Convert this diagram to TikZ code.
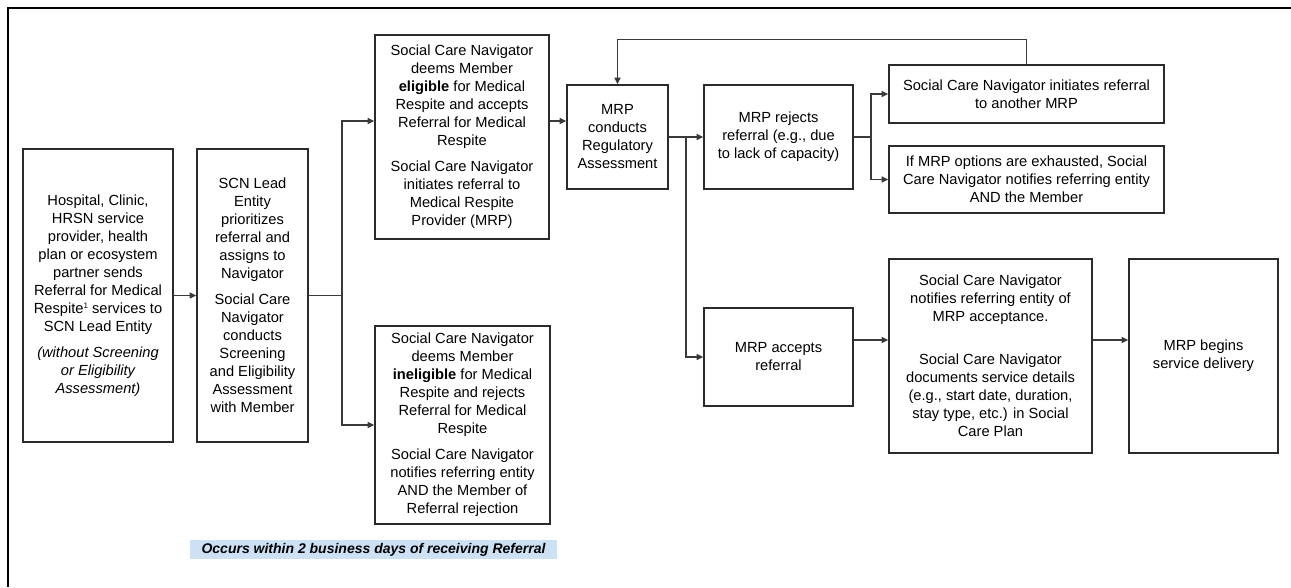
\documentclass[tikz,border=0pt]{standalone}
\usepackage{fontspec}
\setmainfont{Liberation Sans}
\usetikzlibrary{arrows.meta}
\definecolor{edge}{HTML}{2B2B2B}
\definecolor{wirec}{HTML}{3A3A3A}
\definecolor{note}{HTML}{CCE1F4}
\newcommand\refmark{\raisebox{0.6ex}{\fontsize{6}{6}\selectfont 1}}
\begin{document}
\begin{tikzpicture}[x=0.75pt,y=-0.75pt,
  box/.style={draw=edge,line width=1.1pt,inner sep=0pt,align=center,
    font=\fontsize{11}{13.5}\selectfont},
  wire/.style={draw=wirec,line width=1pt},
  arr/.style={wire,-{Triangle[length=5pt,width=4.5pt]}}]
\useasboundingbox (0,0) rectangle (1291,587);
% page frame (top and left rules)
\draw[line width=2pt,black] (8,587) -- (8,8) -- (1291,8);

% first column: referral source and SCN lead entity
\node[box,minimum width=112.5pt,minimum height=219.75pt] (src) at (98,295.5)
  {Hospital, Clinic,\\HRSN service\\provider, health\\plan or ecosystem\\partner sends\\Referral for Medical\\Respite\refmark{} services to\\SCN Lead Entity\\[6pt]
   {\itshape (without Screening}\\{\itshape or Eligibility}\\{\itshape Assessment)}};
\node[box,minimum width=83.25pt,minimum height=219.75pt] (scn) at (252.5,295.5)
  {SCN Lead\\Entity\\prioritizes\\referral and\\assigns to\\Navigator\\[6pt]
   Social Care\\Navigator\\conducts\\Screening\\and Eligibility\\Assessment\\with Member};

% eligibility outcomes
\node[box,minimum width=130.5pt,minimum height=153pt] (elig) at (462,137)
  {Social Care Navigator\\deems Member\\\textbf{eligible} for Medical\\Respite and accepts\\Referral for Medical\\Respite\\[6pt]
   Social Care Navigator\\initiates referral to\\Medical Respite\\Provider (MRP)};
\node[box,minimum width=131.25pt,minimum height=148.5pt] (inel) at (462.5,425)
  {Social Care Navigator\\deems Member\\\textbf{ineligible} for Medical\\Respite and rejects\\Referral for Medical\\Respite\\[6pt]
   Social Care Navigator\\notifies referring entity\\AND the Member of\\Referral rejection};

% MRP assessment and its outcomes
\node[box,minimum width=75.75pt,minimum height=78pt] (mrp) at (617.5,137)
  {MRP\\conducts\\Regulatory\\Assessment};
\node[box,minimum width=111.75pt,minimum height=78pt] (rej) at (778.5,137)
  {MRP rejects\\referral (e.g., due\\to lack of capacity)};
\node[box,minimum width=111.75pt,minimum height=73.5pt] (acc) at (778.5,357)
  {MRP accepts\\referral};
\node[box,minimum width=206.25pt,minimum height=43.5pt] (again) at (1026.5,94)
  {Social Care Navigator initiates referral\\to another MRP};
\node[box,minimum width=206.25pt,minimum height=50.25pt] (exh) at (1026.5,179.5)
  {If MRP options are exhausted, Social\\Care Navigator notifies referring entity\\AND the Member};
\node[box,minimum width=152.25pt,minimum height=145.5pt] (notify) at (990.5,356)
  {Social Care Navigator\\notifies referring entity of\\MRP acceptance.\\[18.75pt]
   Social Care Navigator\\documents service details\\(e.g., start date, duration,\\stay type, etc.) in Social\\Care Plan};
\node[box,minimum width=111.75pt,minimum height=145.5pt] (begin) at (1203.5,356)
  {MRP begins\\service delivery};

% timing note
\node[fill=note,minimum width=275.25pt,minimum height=14.25pt,inner sep=0pt,
  font=\bfseries\itshape\fontsize{10.5}{12}\selectfont] (cap) at (373.5,549.5)
  {Occurs within 2 business days of receiving Referral};

% connectors
\coordinate (j1) at (342,295.5);
\coordinate (j2) at (686,137);
\coordinate (j3) at (871,137);
\draw[arr] (src) -- (scn);
\draw[wire] (scn.east) -- (j1);
\draw[arr] (j1) |- (elig.west |- 0,121);
\draw[arr] (j1) |- (inel.west);
\draw[arr] (elig.east |- 0,121) -- (mrp.west |- 0,121);
\draw[arr] (mrp) -- (rej);
\draw[arr] (j2) |- (acc.west);
\draw[wire] (rej.east) -- (j3);
\draw[arr] (j3) |- (again.west);
\draw[arr] (j3) |- (exh.west);
\draw[arr] (again.north) -- ++(0,-25) -| (mrp.north);
\draw[arr] (acc.east |- 0,340) -- (notify.west |- 0,340);
\draw[arr] (notify.east |- 0,340) -- (begin.west |- 0,340);
\end{tikzpicture}
\end{document}
